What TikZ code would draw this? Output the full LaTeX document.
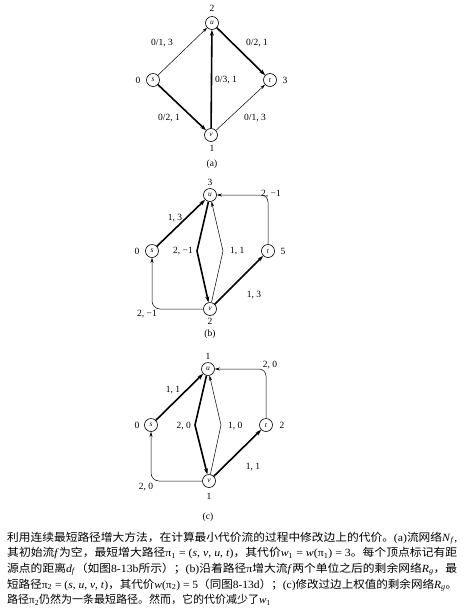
\documentclass[tikz,border=0pt]{standalone}
\usepackage{fontspec}
\setmainfont{Liberation Serif}
\newfontfamily\cjk{Noto Sans CJK SC}
\newcommand{\C}[1]{{\cjk #1}}
\newcommand{\I}[1]{\textit{#1}}
\newcommand{\Sb}[1]{\textsubscript{#1}}
\usetikzlibrary{arrows.meta}
\begin{document}
\begin{tikzpicture}[x=1pt,y=-1pt,
  vtx/.style={circle, draw, line width=0.6pt, minimum size=13pt, inner sep=0pt, font=\fontsize{7.5}{7.5}\selectfont\itshape},
  thn/.style={-{Stealth[length=5pt,width=3pt]}, line width=0.5pt},
  thk/.style={-{Stealth[length=6pt,width=4pt]}, line width=1.6pt},
  lab/.style={font=\fontsize{9.5}{10}\selectfont, inner sep=0pt},
  captxt/.style={font=\fontsize{11}{13}\selectfont, inner sep=0pt, anchor=west}]
\useasboundingbox (0,0) rectangle (465,614);
% ---------- (a)
\node[vtx] (as) at (153,80) {s};
\node[vtx] (au) at (212,23) {u};
\node[vtx] (at) at (270,80) {t};
\node[vtx] (av) at (211,135) {v};
\node[lab] (asd) at (138,80) {0};
\node[lab] (aud) at (212,8) {2};
\node[lab] (atd) at (285,80) {3};
\node[lab] (avd) at (212,148) {1};
\node[lab] (acap) at (212,164) {(a)};
\draw[thn] (as) -- (au);
\draw[thk] (as) -- (av);
\draw[thk] (av) -- (au);
\draw[thk] (au) -- (at);
\draw[thn] (av) -- (at);
\node[lab] (al1) at (162,43) {0/1, 3};
\node[lab] (al2) at (257,43) {0/2, 1};
\node[lab] (al3) at (226,80) {0/3, 1};
\node[lab] (al4) at (169,118) {0/2, 1};
\node[lab] (al5) at (255,118) {0/1, 3};
% ---------- (b)
\node[vtx] (bs) at (152,251) {s};
\node[vtx] (bu) at (210,195) {u};
\node[vtx] (bt) at (268,251) {t};
\node[vtx] (bv) at (210,309) {v};
\node[lab] (bsd) at (137,251) {0};
\node[lab] (bud) at (210,182) {3};
\node[lab] (btd) at (283,251) {5};
\node[lab] (bvd) at (210,321) {2};
\node[lab] (bcap) at (210,334) {(b)};
\coordinate (bl) at (197,251);
\coordinate (br) at (223,251);
\draw[thk] (bs) -- (bu);
\draw[thk] (bu) -- (bl) -- (bv);
\draw[thn] (bv) -- (br) -- (bu);
\draw[thk] (bv) -- (bt);
\draw[thn, rounded corners=7pt] (bt.north) -- (bt.north |- bu.east) -- (bu.east);
\draw[thn, rounded corners=8pt] (bv.west) -- (bs.south |- bv.west) -- (bs.south);
\node[lab, anchor=east] (bl1) at (193,251) {2, −1};
\node[lab, anchor=west] (bl2) at (230,251) {1, 1};
\node[lab] (bl3) at (175,218) {1, 3};
\node[lab] (bl4) at (271,194) {2, −1};
\node[lab] (bl5) at (147,314) {2, −1};
\node[lab] (bl6) at (254,295) {1, 3};
% ---------- (c)
\node[vtx] (cs) at (151,425) {s};
\node[vtx] (cu) at (208,369) {u};
\node[vtx] (ct) at (266,425) {t};
\node[vtx] (cv) at (209,481) {v};
\node[lab] (csd) at (137,425) {0};
\node[lab] (cud) at (208,356) {1};
\node[lab] (ctd) at (282,425) {2};
\node[lab] (cvd) at (209,496) {1};
\node[lab] (ccap) at (208,517) {(c)};
\coordinate (cl) at (195,425);
\coordinate (cr) at (221,425);
\draw[thk] (cs) -- (cu);
\draw[thk] (cu) -- (cl) -- (cv);
\draw[thn] (cv) -- (cr) -- (cu);
\draw[thk] (cv) -- (ct);
\draw[thn, rounded corners=7pt] (ct.north) -- (ct.north |- cu.east) -- (cu.east);
\draw[thn, rounded corners=8pt] (cv.west) -- (cs.south |- cv.west) -- (cs.south);
\node[lab, anchor=east] (cl1) at (191,426) {2, 0};
\node[lab, anchor=west] (cl2) at (228,426) {1, 0};
\node[lab] (cl3) at (173,390) {1, 1};
\node[lab] (cl4) at (270,365) {2, 0};
\node[lab] (cl5) at (146,487) {2, 0};
\node[lab] (cl6) at (253,467) {1, 1};
% ---------- caption
\node[captxt] (t1) at (7,538) {\resizebox{450pt}{\height}{\C{利用连续最短路径增大方法，在计算最小代价流的过程中修改边上的代价。}(a)\C{流网络}\I{N}\Sb{\I{f}},}};
\node[captxt] (t2) at (7,553) {\resizebox{450pt}{\height}{\C{其初始流}\I{f}\C{为空，最短增大路径}π\Sb{1} = (\I{s}, \I{v}, \I{u}, \I{t})\C{，其代价}\I{w}\Sb{1} = \I{w}(π\Sb{1}) = 3\C{。每个顶点标记有距}}};
\node[captxt] (t3) at (7,569) {\resizebox{450pt}{\height}{\C{源点的距离}\I{d}\Sb{\I{f}}\C{（如图}8-13b\C{所示）；}(b)\C{沿着路径}π\C{增大流}\I{f}\C{两个单位之后的剩余网络}\I{R}\Sb{\I{g}}\C{，最}}};
\node[captxt] (t4) at (7,585) {\resizebox{450pt}{\height}{\C{短路径}π\Sb{2} = (\I{s}, \I{u}, \I{v}, \I{t})\C{，其代价}\I{w}(π\Sb{2}) = 5\C{（同图}8-13d\C{）；}(c)\C{修改过边上权值的剩余网络}\I{R}\Sb{\I{g}}\C{。}}};
\node[captxt] (t5) at (7,600) {\C{路径}π\Sb{2}\C{仍然为一条最短路径。然而，它的代价减少了}\I{w}\Sb{1}};
\end{tikzpicture}
\end{document}
